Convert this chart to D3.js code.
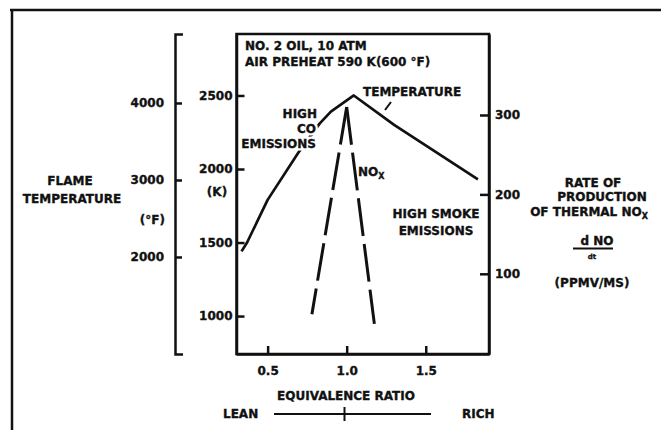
<!DOCTYPE html>
<html>
<head>
<meta charset="utf-8">
<script src="https://cdn.jsdelivr.net/npm/d3@7"></script>
<style>
  body { margin: 0; background: #fff; }
  svg text { font-family: "DejaVu Sans", sans-serif; font-weight: bold; font-size: 12px; fill: #111; stroke: #111; stroke-width: 0.35px; }
  svg text.halo { fill: #fff; stroke: #fff; stroke-width: 5px; }
  .axis path, .axis line { stroke: #111; stroke-width: 2.5; fill: none; }
</style>
</head>
<body>
<svg id="chart" width="661" height="444"></svg>
<script>
// flame temperature (K) against equivalence ratio
const tempPhi = [0.335, 0.37, 0.5, 0.7, 0.83, 0.9, 1.045, 1.3, 1.83];
const tempK = [1440, 1500, 1790, 2120, 2310, 2390, 2500, 2300, 1930];

// rate of production of thermal NOx, d NO/dt (ppmv/ms)
const noxPhi = [0.78, 1.0, 1.175];
const noxRate = [49, 310, 37];

// tick values
const phiTicks = [0.5, 1.0, 1.5];
const kelvinTicks = [1000, 1500, 2000, 2500];
const fahrenheitTicks = [2000, 3000, 4000];
const rateTicks = [100, 200, 300];

const svg = d3.select('#chart');

const x = d3.scaleLinear().domain([0.3, 1.9]).range([236, 489]);
const yK = d3.scaleLinear().domain([742, 2918]).range([354, 34]);
const yF = d3.scaleLinear().domain([740, 4896]).range([354, 34]);
const yRate = d3.scaleLinear().domain([-1, 402]).range([354, 34]);

// outer frame of the scanned figure (top and left edges only)
svg.append('path')
    .attr('d', 'M10,10H661M12,10V430')
    .attr('fill', 'none')
    .attr('stroke', '#111')
    .attr('stroke-width', 2.5);

// plot box
svg.append('rect')
    .attr('x', x.range()[0] + 0.5)
    .attr('y', yK.range()[1])
    .attr('width', x.range()[1] - x.range()[0] - 0.5)
    .attr('height', yK.range()[0] - yK.range()[1])
    .attr('fill', 'none')
    .attr('stroke', '#111')
    .attr('stroke-width', 2.5);

// axes
svg.append('g')
    .attr('class', 'axis')
    .attr('transform', 'translate(236.5,0)')
    .call(d3.axisLeft(yK).tickValues(kelvinTicks).tickSize(-8).tickSizeOuter(0).tickPadding(4).tickFormat(d3.format('d')));

svg.append('g')
    .attr('class', 'axis')
    .attr('transform', 'translate(175,0)')
    .call(d3.axisLeft(yF).tickValues(fahrenheitTicks).tickSize(-7).tickSizeOuter(-8).tickPadding(11).tickFormat(d3.format('d')));

svg.append('g')
    .attr('class', 'axis')
    .attr('transform', 'translate(489,0)')
    .call(d3.axisRight(yRate).tickValues(rateTicks).tickSize(-9).tickSizeOuter(0).tickPadding(6).tickFormat(d3.format('d')));

svg.append('g')
    .attr('class', 'axis')
    .attr('transform', 'translate(0,354)')
    .call(d3.axisBottom(x).tickValues(phiTicks).tickSize(-8).tickSizeOuter(0).tickPadding(12).tickFormat(d3.format('.1f')));

// temperature curve
const line = d3.line().x(d => x(d[0]));

svg.append('path')
    .datum(d3.zip(tempPhi, tempK))
    .attr('d', line.y(d => yK(d[1])))
    .attr('fill', 'none')
    .attr('stroke', '#111')
    .attr('stroke-width', 2.7)
    .attr('stroke-linejoin', 'round');

// NOx, two dashed branches from the peak
const noxPoints = d3.zip(noxPhi, noxRate);
const noxLine = d3.line().x(d => x(d[0])).y(d => yRate(d[1]));
[[noxPoints[1], noxPoints[0]], [noxPoints[1], noxPoints[2]]].forEach(branch => {
    svg.append('path')
        .attr('d', noxLine(branch))
        .attr('fill', 'none')
        .attr('stroke', '#111')
        .attr('stroke-width', 3)
        .attr('stroke-dasharray', '38,8');
});

// labels
function label(txt, px, py, anchor = 'start', halo = false) {
    if (halo) {
        // white copy underneath breaks the curve where the label sits on it
        svg.append('text')
            .attr('class', 'halo')
            .attr('x', px)
            .attr('y', py)
            .attr('text-anchor', anchor)
            .text(txt);
    }
    return svg.append('text')
        .attr('x', px)
        .attr('y', py)
        .attr('text-anchor', anchor)
        .text(txt);
}

label('NO. 2 OIL, 10 ATM', 245, 50);
label('AIR PREHEAT 590 K(600 °F)', 245, 66);

label('TEMPERATURE', 363, 96);
svg.append('path')
    .attr('d', 'M385,110L391,102')
    .attr('stroke', '#111')
    .attr('stroke-width', 2);

label('HIGH', 317, 118, 'end', true);
label('CO', 316, 133, 'end', true);
label('EMISSIONS', 316, 148, 'end', true);

const nox = label('NO', 358, 176);
nox.append('tspan').attr('dy', 3).style('font-size', '8px').text('X');

label('HIGH SMOKE', 436, 218, 'middle');
label('EMISSIONS', 436, 235, 'middle');

label('(K)', 217, 196, 'middle');
label('(°F)', 165, 224, 'end');

label('FLAME', 70, 185, 'middle');
label('TEMPERATURE', 72, 203, 'middle');

label('RATE OF', 593, 187, 'middle');
label('PRODUCTION', 602, 201, 'middle');
const ofNox = label('OF THERMAL NO', 589, 216, 'middle');
ofNox.append('tspan').attr('dy', 3).style('font-size', '8px').text('X');
label('d NO', 597, 245, 'middle');
svg.append('path')
    .attr('d', 'M573,248.5H613')
    .attr('stroke', '#111')
    .attr('stroke-width', 2);
label('dt', 592, 259, 'middle').style('font-size', '7px');
label('(PPMV/MS)', 592, 287, 'middle');

label('EQUIVALENCE RATIO', 346, 400, 'middle');
label('LEAN', 223, 418);
label('RICH', 462, 418);
svg.append('path')
    .attr('d', 'M274,414H431M344.5,407V421')
    .attr('fill', 'none')
    .attr('stroke', '#111')
    .attr('stroke-width', 2);
</script>
</body>
</html>
